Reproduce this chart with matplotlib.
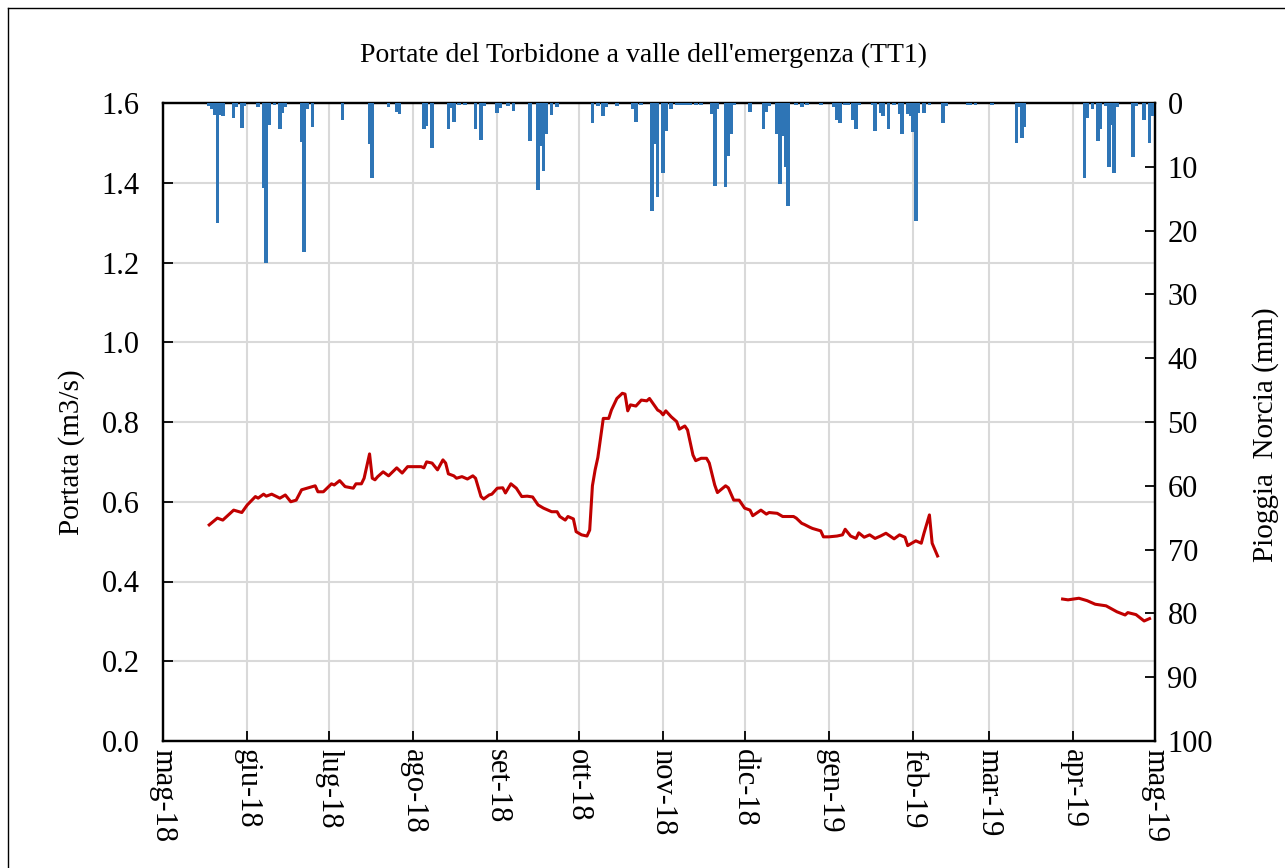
import matplotlib
matplotlib.use('Agg')
import matplotlib.pyplot as plt
import pandas as pd
import numpy as np
from matplotlib.lines import Line2D

plt.rcParams['font.family'] = ['Liberation Serif', 'DejaVu Serif']

# portata giornaliera (m3/s); None = dati mancanti
flow_dates = [
    '2018-05-18', '2018-05-21', '2018-05-23', '2018-05-27', '2018-05-30', '2018-06-01',
    '2018-06-04', '2018-06-05', '2018-06-07', '2018-06-08', '2018-06-10', '2018-06-13',
    '2018-06-15', '2018-06-17', '2018-06-19', '2018-06-21', '2018-06-23', '2018-06-26',
    '2018-06-27', '2018-06-29', '2018-07-02', '2018-07-03', '2018-07-05', '2018-07-07',
    '2018-07-10', '2018-07-11', '2018-07-13', '2018-07-14', '2018-07-16', '2018-07-17',
    '2018-07-18', '2018-07-19', '2018-07-21', '2018-07-23', '2018-07-26', '2018-07-28',
    '2018-07-30', '2018-08-04', '2018-08-05', '2018-08-06', '2018-08-08', '2018-08-10',
    '2018-08-12', '2018-08-13', '2018-08-14', '2018-08-16', '2018-08-17', '2018-08-19',
    '2018-08-21', '2018-08-23', '2018-08-24', '2018-08-26', '2018-08-27', '2018-08-29',
    '2018-08-30', '2018-09-01', '2018-09-03', '2018-09-04', '2018-09-06', '2018-09-08',
    '2018-09-10', '2018-09-12', '2018-09-14', '2018-09-16', '2018-09-18', '2018-09-21',
    '2018-09-23', '2018-09-24', '2018-09-26', '2018-09-27', '2018-09-29', '2018-09-30',
    '2018-10-02', '2018-10-04', '2018-10-05', '2018-10-06', '2018-10-07', '2018-10-08',
    '2018-10-10', '2018-10-11', '2018-10-12', '2018-10-13', '2018-10-15', '2018-10-17',
    '2018-10-18', '2018-10-19', '2018-10-20', '2018-10-22', '2018-10-24', '2018-10-26',
    '2018-10-27', '2018-10-30', '2018-10-31', '2018-11-01', '2018-11-02', '2018-11-04',
    '2018-11-06', '2018-11-07', '2018-11-09', '2018-11-10', '2018-11-12', '2018-11-13',
    '2018-11-15', '2018-11-17', '2018-11-18', '2018-11-20', '2018-11-21', '2018-11-24',
    '2018-11-25', '2018-11-27', '2018-11-29', '2018-12-01', '2018-12-03', '2018-12-04',
    '2018-12-07', '2018-12-09', '2018-12-10', '2018-12-13', '2018-12-15', '2018-12-17',
    '2018-12-19', '2018-12-20', '2018-12-22', '2018-12-23', '2018-12-25', '2018-12-26',
    '2018-12-29', '2018-12-30', '2019-01-01', '2019-01-04', '2019-01-06', '2019-01-07',
    '2019-01-09', '2019-01-11', '2019-01-12', '2019-01-14', '2019-01-16', '2019-01-18',
    '2019-01-20', '2019-01-22', '2019-01-25', '2019-01-27', '2019-01-29', '2019-01-30',
    '2019-02-02', '2019-02-04', '2019-02-05', '2019-02-07', '2019-02-08', '2019-02-10',
    '2019-03-01',
    '2019-03-28', '2019-03-30', '2019-04-03', '2019-04-06', '2019-04-09', '2019-04-13',
    '2019-04-17', '2019-04-20', '2019-04-21', '2019-04-24', '2019-04-27', '2019-04-29',
]
flow_vals = [
    0.542, 0.559, 0.554, 0.579, 0.573, 0.592,
    0.613, 0.609, 0.619, 0.614, 0.619, 0.609,
    0.617, 0.600, 0.604, 0.630, 0.634, 0.640,
    0.625, 0.625, 0.645, 0.642, 0.653, 0.638,
    0.634, 0.645, 0.645, 0.659, 0.720, 0.659,
    0.655, 0.663, 0.675, 0.665, 0.685, 0.672,
    0.688, 0.688, 0.685, 0.700, 0.697, 0.680,
    0.705, 0.697, 0.670, 0.665, 0.659, 0.663,
    0.657, 0.665, 0.659, 0.613, 0.607, 0.617,
    0.619, 0.634, 0.635, 0.622, 0.645, 0.634,
    0.613, 0.614, 0.612, 0.592, 0.584, 0.575,
    0.575, 0.563, 0.554, 0.563, 0.557, 0.525,
    0.517, 0.514, 0.529, 0.640, 0.680, 0.711,
    0.809, 0.809, 0.809, 0.830, 0.859, 0.872,
    0.870, 0.828, 0.843, 0.840, 0.855, 0.853,
    0.859, 0.830, 0.826, 0.818, 0.828, 0.813,
    0.801, 0.782, 0.790, 0.780, 0.717, 0.703,
    0.709, 0.709, 0.697, 0.642, 0.623, 0.640,
    0.635, 0.604, 0.604, 0.584, 0.579, 0.565,
    0.579, 0.569, 0.573, 0.571, 0.563, 0.563,
    0.563, 0.559, 0.546, 0.543, 0.536, 0.533,
    0.527, 0.512, 0.512, 0.514, 0.517, 0.531,
    0.514, 0.508, 0.522, 0.511, 0.517, 0.508,
    0.514, 0.521, 0.507, 0.517, 0.511, 0.490,
    0.502, 0.496, 0.521, 0.567, 0.496, 0.464,
    None,
    0.356, 0.354, 0.358, 0.352, 0.343, 0.339,
    0.324, 0.316, 0.322, 0.317, 0.301, 0.307,
]

# pioggia giornaliera Norcia (mm)
rain_dates = [
    '2018-05-18', '2018-05-19', '2018-05-20', '2018-05-21', '2018-05-22', '2018-05-23',
    '2018-05-27', '2018-05-28', '2018-05-30', '2018-05-31', '2018-06-05', '2018-06-07',
    '2018-06-08', '2018-06-09', '2018-06-11', '2018-06-13', '2018-06-14', '2018-06-15',
    '2018-06-21', '2018-06-22', '2018-06-23', '2018-06-25', '2018-07-06', '2018-07-16',
    '2018-07-17', '2018-07-23', '2018-07-26', '2018-07-27', '2018-08-05', '2018-08-06',
    '2018-08-08', '2018-08-14', '2018-08-15', '2018-08-16', '2018-08-18', '2018-08-20',
    '2018-08-24', '2018-08-26', '2018-08-27', '2018-09-01', '2018-09-02', '2018-09-05',
    '2018-09-07', '2018-09-13', '2018-09-16', '2018-09-17', '2018-09-18', '2018-09-19',
    '2018-09-21', '2018-09-23', '2018-10-06', '2018-10-08', '2018-10-10', '2018-10-11',
    '2018-10-15', '2018-10-21', '2018-10-22', '2018-10-24', '2018-10-28', '2018-10-29',
    '2018-10-30', '2018-11-01', '2018-11-02', '2018-11-04', '2018-11-06', '2018-11-07',
    '2018-11-08', '2018-11-09', '2018-11-10', '2018-11-11', '2018-11-13', '2018-11-15',
    '2018-11-19', '2018-11-20', '2018-11-21', '2018-11-24', '2018-11-25', '2018-11-26',
    '2018-11-27', '2018-12-03', '2018-12-08', '2018-12-09', '2018-12-10', '2018-12-13',
    '2018-12-14', '2018-12-15', '2018-12-16', '2018-12-17', '2018-12-20', '2018-12-22',
    '2018-12-24', '2018-12-29', '2019-01-03', '2019-01-04', '2019-01-05', '2019-01-07',
    '2019-01-08', '2019-01-10', '2019-01-11', '2019-01-12', '2019-01-17', '2019-01-18',
    '2019-01-20', '2019-01-21', '2019-01-23', '2019-01-25', '2019-01-27', '2019-01-28',
    '2019-01-30', '2019-01-31', '2019-02-01', '2019-02-02', '2019-02-03', '2019-02-05',
    '2019-02-07', '2019-02-12', '2019-02-13', '2019-02-21', '2019-02-22', '2019-02-24',
    '2019-03-02', '2019-03-11', '2019-03-12', '2019-03-13', '2019-03-14', '2019-04-05',
    '2019-04-06', '2019-04-08', '2019-04-10', '2019-04-11', '2019-04-13', '2019-04-14',
    '2019-04-15', '2019-04-16', '2019-04-17', '2019-04-23', '2019-04-24', '2019-04-27',
    '2019-04-29', '2019-04-30',
]
rain_mm = [
    0.5, 1.0, 1.9, 18.8, 1.9, 2.0,
    2.3, 0.6, 3.9, 0.5, 0.6, 13.3,
    25.1, 3.4, 0.3, 4.1, 1.6, 0.6,
    6.1, 23.3, 1.0, 3.7, 2.7, 6.5,
    11.8, 0.7, 1.4, 1.7, 4.1, 3.6,
    7.0, 4.1, 0.8, 3.0, 0.3, 0.3,
    4.1, 5.8, 0.5, 1.6, 0.8, 0.4,
    1.3, 6.0, 13.6, 6.8, 10.7, 4.9,
    1.9, 0.6, 3.2, 0.4, 2.0, 0.6,
    0.4, 1.0, 2.9, 0.3, 16.9, 6.5,
    14.7, 11.0, 4.4, 1.0, 0.3, 0.3,
    0.3, 0.3, 0.3, 0.3, 0.3, 0.3,
    1.8, 13.0, 1.0, 13.1, 8.3, 4.9,
    0.3, 1.4, 4.1, 1.4, 0.5, 4.9,
    12.7, 5.1, 10.0, 16.1, 0.3, 0.7,
    0.3, 0.3, 0.6, 2.7, 3.2, 0.3,
    0.3, 2.7, 4.0, 0.3, 0.3, 4.4,
    1.6, 2.1, 4.0, 0.3, 1.7, 4.8,
    1.7, 2.0, 4.5, 18.5, 1.6, 1.6,
    0.3, 3.2, 0.4, 0.3, 0.3, 0.3,
    0.3, 6.3, 0.6, 5.5, 3.7, 11.7,
    2.4, 1.0, 6.0, 4.0, 0.5, 10.0,
    3.4, 11.0, 0.7, 8.4, 0.5, 2.7,
    6.2, 2.0,
]

month_labels = ['mag-18', 'giu-18', 'lug-18', 'ago-18', 'set-18', 'ott-18', 'nov-18',
                'dic-18', 'gen-19', 'feb-19', 'mar-19', 'apr-19', 'mag-19']

fd = pd.to_datetime(flow_dates)
fv = np.array([np.nan if v is None else v for v in flow_vals])
rd = pd.to_datetime(rain_dates)
months = pd.date_range('2018-05-01', '2019-05-01', freq='MS')

W, H = 1285, 868
fig = plt.figure(figsize=(W / 100, H / 100), dpi=100)
ax = fig.add_axes([163 / W, 1 - 741 / H, (1155 - 163) / W, (741 - 103) / H])
ax2 = ax.twinx()

ax.plot(fd, fv, color='#C00000', lw=2.2, zorder=3)
ax2.bar(rd, rain_mm, width=1.35, color='#2E75B6', align='center', zorder=3)

ax.set_xlim(months[0], months[-1])
ax.set_ylim(0, 1.6)
ax.set_yticks(np.arange(0, 1.61, 0.2))
ax.yaxis.set_major_formatter(matplotlib.ticker.FormatStrFormatter('%.1f'))
ax2.set_ylim(100, 0)
ax2.set_yticks(np.arange(0, 101, 10))

ax.set_xticks(months)
ax.set_xticklabels(month_labels, rotation=270, va='top', ha='center')
ax.grid(True, color='#D9D9D9', lw=1.5)
ax.set_axisbelow(True)

for a in (ax, ax2):
    for s in a.spines.values():
        s.set_linewidth(1.6)
    a.tick_params(direction='in', length=7, width=1.3, labelsize=22)
ax.tick_params(axis='x', pad=6)
ax.tick_params(axis='y', pad=17)
ax2.tick_params(axis='y', pad=9)

ax.set_ylabel('Portata (m3/s)', fontsize=21, labelpad=10)
ax.yaxis.set_label_coords(-0.079, 0.453)
ax2.set_ylabel('Pioggia  Norcia (mm)', fontsize=21, labelpad=12)
ax2.yaxis.set_label_coords(1.098, 0.48)
fig.text(644 / W, 1 - 55 / H, "Portate del Torbidone a valle dell'emergenza (TT1)",
         ha='center', va='center', fontsize=20)

# cornice del grafico
fig.add_artist(Line2D([8 / W, 8 / W], [0, 1 - 8 / H], transform=fig.transFigure, color='black', lw=1))
fig.add_artist(Line2D([8 / W, 1], [1 - 8 / H, 1 - 8 / H], transform=fig.transFigure, color='black', lw=1))

fig.savefig('out.png', dpi=100)
